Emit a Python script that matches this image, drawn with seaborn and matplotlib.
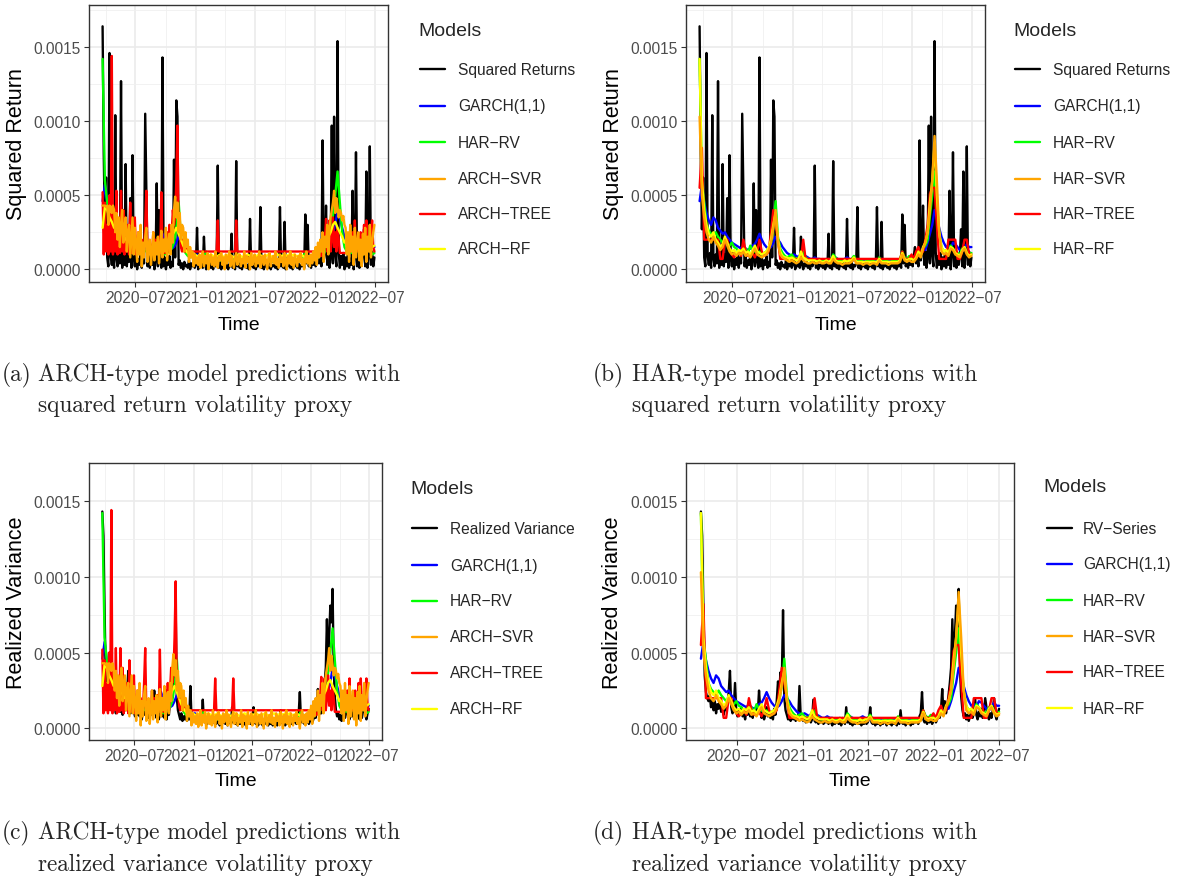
import numpy as np
import pandas as pd
import seaborn as sns
import matplotlib.pyplot as plt
import matplotlib.dates as mdates
from matplotlib.lines import Line2D
from matplotlib.ticker import FormatStrFormatter

sns.set_theme(style="white")
plt.rcParams["font.family"] = ["Liberation Sans", "DejaVu Sans"]

start, end = "2020-03-23", "2022-06-30"

# all values in units of 1e-5
# proxies and the noisy ARCH learners: twice a week
squared_returns = [
    164, 78, 27, 62, 8, 2, 146, 9, 3, 11,
    1, 104, 7, 2, 10, 4, 127, 1, 9, 3,
    71, 2, 10, 5, 48, 1, 77, 8, 2, 11,
    0, 7, 3, 10, 1, 8, 4, 105, 53, 2,
    9, 1, 6, 3, 10, 0, 7, 58, 2, 40,
    5, 1, 143, 2, 8, 0, 6, 3, 9, 1,
    5, 2, 74, 8, 114, 103, 3, 6, 1, 4,
    0, 5, 2, 3, 1, 6, 0, 4, 2, 5,
    1, 3, 28, 0, 4, 2, 5, 1, 22, 3,
    0, 4, 2, 5, 1, 3, 0, 6, 2, 4,
    70, 1, 5, 0, 3, 2, 4, 1, 5, 0,
    3, 2, 24, 1, 4, 0, 73, 2, 5, 1,
    3, 0, 4, 2, 5, 1, 3, 0, 34, 2,
    4, 1, 5, 0, 3, 2, 4, 42, 1, 5,
    0, 3, 2, 4, 1, 5, 0, 3, 2, 4,
    1, 5, 0, 3, 42, 2, 4, 1, 32, 0,
    3, 2, 5, 1, 4, 0, 3, 2, 5, 1,
    4, 0, 3, 2, 5, 1, 37, 4, 30, 2,
    5, 1, 6, 3, 8, 2, 9, 15, 4, 10,
    2, 87, 6, 11, 43, 3, 12, 1, 9, 97,
    4, 103, 10, 2, 154, 12, 1, 9, 3, 11,
    0, 8, 2, 10, 1, 7, 3, 53, 0, 9,
    79, 2, 11, 1, 8, 3, 10, 27, 2, 66,
    1, 9, 83, 3, 12, 2, 8,
]
realized_variance = [
    143, 127, 78, 35, 24, 20, 18, 22, 14, 20,
    12, 18, 10, 16, 13, 20, 11, 15, 9, 14,
    12, 17, 24, 38, 14, 10, 13, 30, 11, 8,
    12, 9, 14, 8, 10, 6, 12, 9, 16, 8,
    11, 7, 13, 9, 15, 10, 25, 12, 7, 10,
    6, 9, 14, 8, 11, 7, 10, 6, 13, 9,
    18, 31, 25, 37, 30, 78, 20, 12, 9, 6,
    10, 5, 8, 6, 9, 5, 7, 6, 28, 8,
    6, 5, 7, 4, 6, 5, 7, 4, 6, 19,
    5, 4, 6, 3, 5, 4, 6, 3, 5, 4,
    6, 3, 5, 4, 2, 5, 3, 4, 6, 3,
    5, 2, 4, 6, 3, 14, 4, 5, 3, 4,
    2, 5, 3, 4, 6, 3, 5, 2, 4, 3,
    5, 3, 4, 6, 14, 4, 3, 5, 2, 4,
    3, 5, 2, 4, 3, 6, 4, 2, 5, 3,
    4, 2, 5, 3, 4, 2, 6, 3, 12, 4,
    3, 5, 2, 4, 3, 5, 2, 4, 3, 5,
    4, 6, 3, 8, 10, 24, 6, 4, 5, 3,
    6, 4, 7, 3, 5, 8, 4, 6, 10, 7,
    12, 26, 9, 18, 10, 15, 22, 30, 40, 72,
    40, 60, 81, 70, 92, 40, 21, 12, 8, 10,
    6, 9, 5, 8, 12, 7, 10, 20, 9, 6,
    11, 8, 13, 7, 10, 20, 14, 8, 6, 10,
    7, 12, 20, 9, 6, 10, 13,
]
arch_svr = [
    43, 43, 43, 42, 43, 30, 43, 42, 38, 43, 40, 25,
    38, 20, 35, 15, 30, 40, 18, 28, 35, 12, 25, 30, 8, 22, 35, 10, 28, 18,
    5, 25, 10, 30, 2, 18, 8, 22, 28, 5, 15, 20, 3, 12, 25,
    6, 18, 10, 22, 4, 16, 26, 8, 20, 12, 28, 6, 18, 24, 10,
    30, 18, 40, 49, 35, 45, 25, 38, 20, 30, 28, 12, 25, 15,
    20, 5, 15, 8, 12, 2, 10, 4,
    8, 3, 10, 1, 6, 12, 2, 9, 4, 11,
    0, 7, 10, 3, 8, 2, 12, 5, 1, 9,
    6, 11, 3, 8, 0, 10, 4, 7, 12, 2,
    9, 5, 1, 8, 11, 3, 6, 10, 2, 7,
    4, 12, 1, 9, 5, 8, 0, 11, 3, 6,
    10, 2, 8, 4, 12, 1, 7, 9, 3, 10,
    5, 0, 8, 11, 2, 6, 9, 4, 12, 3,
    7, 1, 10, 5, 8, 2, 11, 6, 0, 9,
    4, 12, 3, 8, 1, 10, 6, 2, 9, 5,
    11, 3, 7, 0, 8, 12, 4, 9, 2, 10,
    4, 12, 6, 15, 3, 18, 8, 20, 12, 25, 5, 22, 15, 30, 10, 28, 35, 40,
    45, 53, 38, 48, 42, 35, 40, 38, 33, 36, 30, 28,
    10, 25, 5, 30, 12, 22, 3, 28, 8, 18, 25, 6, 20,
    2, 24, 10, 28, 5, 22, 12, 30, 8, 18, 25, 30,
]
arch_tree = [
    52, 10, 45, 12, 30, 10, 50, 12, 144, 10, 35, 12, 53, 10, 25,
    11, 53, 12, 40, 10, 25, 12, 30, 10, 45, 11, 22, 12, 35, 10,
    12, 25, 11, 12, 20, 10, 12, 30, 53, 12, 11, 18, 12, 10, 25,
    12, 20, 11, 12, 22, 11, 52, 12, 20, 11, 12, 25, 12, 30, 12,
    25, 40, 30, 35, 60, 97, 25, 30, 15, 12,
    20, 12, 12, 15, 12, 12, 12, 12, 12, 12,
    12, 12, 12, 12, 12, 12, 12, 12, 12, 12,
    12, 12, 12, 12, 12, 12, 12, 12, 12, 12,
    33, 12, 12, 12, 12, 12, 12, 12, 12, 12,
    12, 12, 12, 12, 12, 12, 33, 12, 12, 12,
    12, 12, 12, 12, 12, 12, 12, 12, 12, 12,
    12, 12, 12, 12, 12, 12, 12, 12, 12, 12,
    12, 12, 12, 12, 12, 12, 12, 12, 12, 12,
    12, 12, 12, 12, 12, 12, 12, 12, 12, 12,
    12, 12, 12, 12, 12, 12, 12, 12, 12, 12,
    12, 12, 12, 12, 12, 12, 12, 12, 12, 12,
    12, 12, 12, 12, 12, 12, 12, 9, 9, 10,
    9, 12, 10, 20, 34, 12, 15, 33, 12, 20,
    35, 15, 25, 12, 28, 20, 11, 11, 11, 11,
    11, 11, 11, 11, 20, 12, 15, 25, 12, 33,
    12, 20, 12, 15, 25, 12, 18, 30, 12, 33,
    15, 20, 12, 25, 33, 15, 12,
]

# smoother forecasts: weekly
garch = [
    46, 57, 45, 38, 33, 30, 35, 33, 28, 26,
    24, 25, 22, 20, 18, 17, 16, 15, 14, 16,
    14, 13, 14, 16, 17, 20, 24, 20, 17, 15,
    14, 15, 18, 22, 20, 18, 15, 13, 11, 10,
    9, 10, 9, 8, 11, 10, 9, 8, 7, 7,
    8, 7, 7, 6, 6, 7, 6, 7, 9, 8,
    7, 6, 6, 7, 8, 7, 6, 6, 7, 6,
    6, 6, 5, 6, 6, 5, 6, 6, 5, 7,
    6, 5, 6, 6, 5, 6, 6, 7, 9, 8,
    7, 7, 8, 7, 9, 12, 11, 14, 13, 18,
    24, 30, 40, 35, 28, 22, 18, 15, 16, 14,
    18, 17, 15, 13, 12, 14, 17, 15, 15,
]
har_rv = [
    142, 60, 45, 30, 26, 24, 22, 25, 22, 20,
    18, 20, 17, 16, 18, 15, 14, 12, 13, 12,
    14, 11, 16, 13, 12, 11, 12, 10, 11, 12,
    14, 18, 28, 46, 22, 14, 11, 9, 8, 9,
    10, 8, 7, 8, 9, 12, 8, 7, 6, 6,
    7, 6, 6, 5, 6, 6, 7, 6, 10, 8,
    6, 6, 5, 6, 6, 6, 7, 9, 6, 5,
    6, 5, 5, 6, 5, 6, 5, 5, 8, 6,
    5, 6, 5, 5, 6, 6, 5, 7, 12, 8,
    7, 9, 8, 7, 9, 11, 10, 14, 16, 20,
    36, 50, 66, 45, 25, 15, 12, 13, 11, 16,
    14, 12, 11, 10, 14, 15, 12, 10, 11,
]
arch_rf = [
    28, 42, 40, 35, 32, 28, 33, 25, 30, 22,
    20, 24, 18, 22, 17, 18, 15, 14, 16, 18,
    13, 15, 12, 14, 13, 15, 18, 14, 15, 17,
    22, 25, 28, 24, 20, 16, 13, 11, 10, 9,
    10, 9, 8, 10, 9, 8, 9, 10, 9, 8,
    9, 10, 9, 8, 9, 10, 9, 8, 9, 10,
    9, 8, 9, 10, 9, 8, 9, 9, 10, 9,
    8, 9, 10, 9, 8, 9, 10, 9, 9, 10,
    9, 10, 9, 10, 9, 9, 10, 9, 8, 7,
    8, 9, 12, 10, 14, 16, 20, 18, 22, 25,
    30, 32, 28, 25, 22, 18, 20, 17, 15, 18,
    16, 14, 15, 13, 16, 14, 17, 15, 16,
]
har_svr = [
    103, 50, 35, 25, 20, 18, 22, 18, 16, 13,
    15, 20, 16, 12, 10, 11, 9, 11, 10, 12,
    9, 10, 8, 11, 14, 10, 9, 8, 9, 10,
    13, 18, 28, 40, 18, 10, 8, 7, 6, 5,
    6, 5, 4, 5, 8, 6, 5, 4, 4, 5,
    4, 4, 5, 4, 4, 5, 4, 4, 7, 5,
    4, 4, 3, 4, 4, 4, 5, 7, 4, 4,
    4, 3, 4, 4, 3, 4, 4, 3, 6, 4,
    4, 4, 3, 4, 4, 4, 4, 5, 10, 6,
    5, 6, 5, 5, 7, 10, 8, 14, 18, 25,
    40, 60, 90, 60, 25, 12, 10, 11, 9, 14,
    13, 10, 9, 8, 12, 14, 10, 8, 9,
]
har_tree = [
    55, 82, 20, 20, 20, 20, 20, 20, 20, 7,
    7, 20, 20, 13, 10, 8, 10, 12, 9, 20,
    12, 9, 10, 11, 8, 12, 20, 12, 9, 10,
    12, 25, 40, 30, 20, 7, 7, 7, 7, 7,
    7, 7, 7, 7, 7, 20, 7, 7, 7, 7,
    7, 7, 7, 7, 7, 7, 7, 7, 7, 7,
    7, 7, 7, 7, 7, 7, 7, 7, 7, 7,
    7, 7, 7, 7, 7, 7, 7, 7, 7, 7,
    7, 7, 7, 7, 7, 7, 7, 7, 12, 7,
    7, 7, 10, 7, 12, 15, 10, 12, 20, 30,
    51, 55, 55, 30, 7, 7, 7, 7, 20, 20,
    20, 20, 7, 7, 12, 20, 20, 10, 10,
]
har_rf = [
    142, 60, 40, 30, 24, 22, 25, 20, 18, 15,
    17, 22, 18, 14, 12, 13, 11, 13, 12, 14,
    11, 12, 10, 13, 16, 12, 11, 10, 11, 12,
    15, 20, 30, 38, 20, 12, 9, 8, 8, 7,
    8, 7, 6, 7, 12, 8, 7, 6, 6, 6,
    6, 5, 6, 5, 5, 6, 5, 6, 9, 6,
    5, 5, 5, 6, 5, 6, 6, 8, 5, 5,
    5, 5, 5, 5, 5, 5, 5, 5, 7, 5,
    5, 5, 5, 5, 5, 5, 5, 6, 11, 7,
    6, 7, 7, 6, 8, 12, 9, 15, 18, 25,
    45, 60, 85, 50, 25, 15, 12, 13, 11, 15,
    14, 11, 10, 9, 13, 15, 11, 9, 10,
]

major_dates = ["2020-07-01", "2021-01-01", "2021-07-01", "2022-01-01", "2022-07-01"]
minor_dates = ["2020-04-01", "2020-10-01", "2021-04-01", "2021-10-01", "2022-04-01"]

colors = {"proxy": "black", "garch": "#0000FF", "harrv": "#00FF00",
          "svr": "#FFA500", "tree": "#FF0000", "rf": "#FFFF00"}

W, H = 1179, 879
fig = plt.figure(figsize=(W / 100, H / 100), dpi=100)


def frame(vals):
    t0, t1 = pd.Timestamp(start).value, pd.Timestamp(end).value
    t = pd.to_datetime(np.linspace(t0, t1, len(vals)))
    return pd.DataFrame({"Time": t, "value": np.asarray(vals) * 1e-5})


panels = [
    dict(box=(89, 6, 388, 283), ylim=(-0.0000858, 0.001784), ylab="Squared Return",
         proxy=("Squared Returns", squared_returns), fam="ARCH", ylx=17, xly=325,
         leg=(418, 32, 420, 458, [70, 107, 143, 180, 215, 250]),
         cap=(2, 38, 375, 406, "(a)", "ARCH-type model predictions with", "squared return volatility proxy")),
    dict(box=(686, 6, 985, 283), ylim=(-0.0000858, 0.001784), ylab="Squared Return",
         proxy=("Squared Returns", squared_returns), fam="HAR", ylx=613, xly=325,
         leg=(1013, 32, 1015, 1053, [70, 107, 143, 180, 215, 250]),
         cap=(593, 632, 375, 406, "(b)", "HAR-type model predictions with", "squared return volatility proxy")),
    dict(box=(89, 464, 382, 741), ylim=(-0.0000759, 0.00158), ylab="Realized Variance",
         proxy=("Realized Variance", realized_variance), fam="ARCH", ylx=17, xly=782,
         leg=(410, 490, 412, 450, [529, 566, 602, 638, 674, 710]),
         cap=(2, 38, 833, 865, "(c)", "ARCH-type model predictions with", "realized variance volatility proxy")),
    dict(box=(686, 464, 1014, 741), ylim=(-0.0000759, 0.00158), ylab="Realized Variance",
         proxy=("RV\u2212Series", realized_variance), fam="HAR", ylx=613, xly=782,
         leg=(1043, 488, 1047, 1083, [529, 565, 601, 637, 673, 709]),
         cap=(593, 632, 833, 865, "(d)", "HAR-type model predictions with", "realized variance volatility proxy")),
]

serif = ["cmr10", "DejaVu Serif"]

for p in panels:
    l, t, r, b = p["box"]
    ax = fig.add_axes([l / W, 1 - b / H, (r - l) / W, (b - t) / H])
    fam = p["fam"]
    if fam == "ARCH":
        svr, tree, rf = arch_svr, arch_tree, arch_rf
    else:
        svr, tree, rf = har_svr, har_tree, har_rf
    legend_items = [
        (p["proxy"][0], colors["proxy"]),
        ("GARCH(1,1)", colors["garch"]),
        ("HAR\u2212RV", colors["harrv"]),
        (fam + "\u2212SVR", colors["svr"]),
        (fam + "\u2212TREE", colors["tree"]),
        (fam + "\u2212RF", colors["rf"]),
    ]
    # drawing order: proxy underneath, SVR on top
    draw = [(p["proxy"][1], colors["proxy"]), (garch, colors["garch"]),
            (har_rv, colors["harrv"]), (tree, colors["tree"]),
            (rf, colors["rf"]), (svr, colors["svr"])]
    for vals, col in draw:
        sns.lineplot(data=frame(vals), x="Time", y="value", color=col, lw=1.7,
                     estimator=None, ax=ax, legend=False)

    t0, t1 = pd.Timestamp(start), pd.Timestamp(end)
    pad = (t1 - t0) * 0.05
    ax.set_xlim(t0 - pad, t1 + pad)
    ax.set_ylim(*p["ylim"])
    ax.set_xticks(pd.to_datetime(major_dates))
    ax.set_xticks(pd.to_datetime(minor_dates), minor=True)
    ax.xaxis.set_major_formatter(mdates.DateFormatter("%Y\u2212%m"))
    ax.set_yticks([0, 0.0005, 0.0010, 0.0015])
    ax.set_yticks([0.00025, 0.00075, 0.00125, 0.00175], minor=True)
    ax.yaxis.set_major_formatter(FormatStrFormatter("%.4f"))
    ax.set_axisbelow(True)
    ax.grid(which="major", color="#EBEBEB", lw=1.2)
    ax.grid(which="minor", color="#F0F0F0", lw=0.6)
    ax.tick_params(which="major", direction="out", length=3.5, width=0.8, color="#333333",
                   labelsize=11.2, labelcolor="#4D4D4D", pad=2.5, bottom=True, left=True)
    ax.tick_params(which="minor", length=0)
    for s in ax.spines.values():
        s.set_color("#333333")
        s.set_linewidth(1.0)

    ax.set_xlabel("Time", fontsize=14, color="black")
    ax.set_ylabel(p["ylab"], fontsize=15.5, color="black")
    ax.xaxis.set_label_coords(0.5, (b - p["xly"]) / (b - t))
    ax.xaxis.label.set_va("center")
    ax.yaxis.set_label_coords((p["ylx"] - l) / (r - l), 0.5)
    ax.yaxis.label.set_va("center")

    # legend
    tx, ty, kx, lx, ys = p["leg"]
    fig.text(tx / W, 1 - ty / H, "Models", fontsize=14, va="center", ha="left")
    for y, (lab, col) in zip(ys, legend_items):
        fig.add_artist(Line2D([kx / W, (kx + 25) / W], [1 - y / H] * 2, color=col, lw=1.7))
        fig.text(lx / W, 1 - y / H, lab, fontsize=11.2, va="center", ha="left")

    # sub-caption
    cx, cx2, cy1, cy2, tag, line1, line2 = p["cap"]
    fig.text(cx / W, 1 - cy1 / H, tag, fontsize=16.8, family=serif, va="center")
    fig.text(cx2 / W, 1 - cy1 / H, line1, fontsize=16.8, family=serif, va="center")
    fig.text(cx2 / W, 1 - cy2 / H, line2, fontsize=16.8, family=serif, va="center")

fig.savefig("out.png", dpi=100)
